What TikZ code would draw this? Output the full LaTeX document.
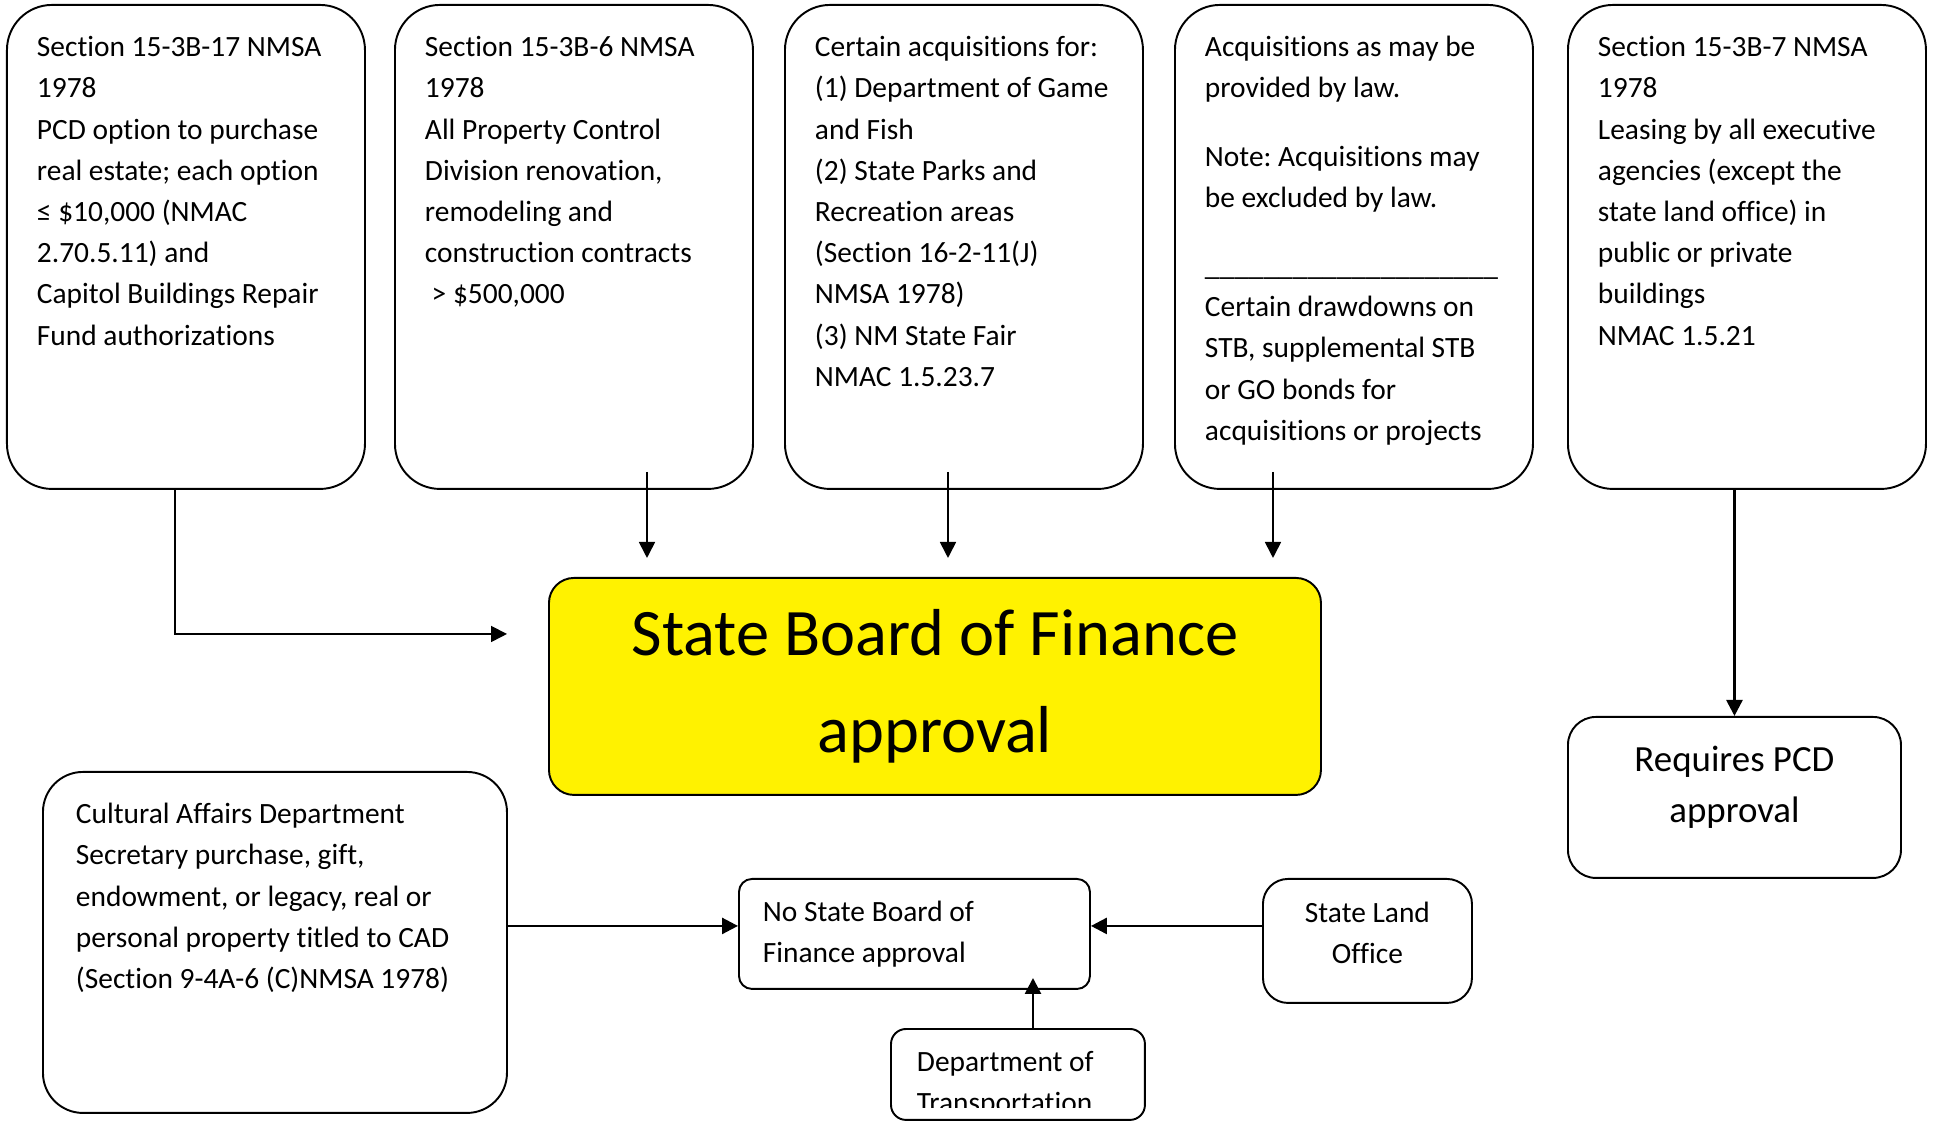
\documentclass[tikz,border=0pt]{standalone}
\usepackage{fontspec}
\setmainfont{Carlito}[Ligatures=NoCommon]
\usetikzlibrary{arrows.meta}

\newcommand{\boxfont}{\fontsize{8.37pt}{11.72pt}\selectfont\frenchspacing}
\newcommand{\boxtext}[3]{\parbox[t][#2][t]{#1}{\raggedright\strut#3}}

\tikzset{
  box/.style={draw, line width=0.55pt, anchor=north west, font=\boxfont},
  topbox/.style={box, rounded corners=0.45cm, inner xsep=0.3cm, inner ysep=0.23cm},
  thin arrow/.style={line width=0.5pt, -{Triangle[length=0.16cm, width=0.16cm]}},
  thick arrow/.style={line width=0.75pt, -{Triangle[length=0.16cm, width=0.16cm]}}
}

\begin{document}
\begin{tikzpicture}
  \useasboundingbox (0,0) rectangle (19.33,11.21);

  \node[topbox] (pcd17) at (0.06,11.17) {\boxtext{2.98cm}{4.38cm}{Section 15-3B-17 NMSA\\1978\\PCD option to purchase\\real estate; each option\\≤ \$10,000 (NMAC\\2.70.5.11) and\\Capitol Buildings Repair\\Fund authorizations}}; %上段1
  \node[topbox] (pcd6) at (3.94,11.17) {\boxtext{2.98cm}{4.38cm}{Section 15-3B-6 NMSA\\1978\\All Property Control\\Division renovation,\\remodeling and\\construction contracts\\\hspace*{0.23em}> \$500,000}}; %上段2
  \node[topbox] (acq) at (7.84,11.17) {\boxtext{2.98cm}{4.38cm}{Certain acquisitions for:\\(1) Department of Game\\and Fish\\(2) State Parks and\\Recreation areas\\(Section 16-2-11(J)\\NMSA 1978)\\(3) NM State Fair\\NMAC 1.5.23.7}}; %上段3
  \node[topbox] (law) at (11.74,11.17) {\boxtext{2.98cm}{4.38cm}{Acquisitions as may be\\provided by law.\\[0.27cm]Note: Acquisitions may\\be excluded by law.\\[0.27cm]\_\_\_\_\_\_\_\_\_\_\_\_\_\_\_\_\_\_\_\_\\Certain drawdowns on\\STB, supplemental STB\\or GO bonds for\\acquisitions or projects}}; %上段4
  \node[topbox] (pcd7) at (15.67,11.17) {\boxtext{2.98cm}{4.38cm}{Section 15-3B-7 NMSA\\1978\\Leasing by all executive\\agencies (except the\\state land office) in\\public or private\\buildings\\NMAC 1.5.21}}; %上段5

  \node[box, fill=yellow, rounded corners=0.25cm, minimum width=7.72cm, minimum height=2.17cm, align=center, font=\fontsize{18.9pt}{27.6pt}\selectfont] (sbf) at (5.48,5.44) {State Board of Finance\\approval}; %黄色の箱
  \node[box, rounded corners=0.28cm, inner xsep=0.1cm, inner ysep=0.18cm, font=\fontsize{10.5pt}{14.7pt}\selectfont] (req) at (15.67,4.05) {\boxtext{3.13cm}{1.25cm}{\centering Requires PCD\\approval}}; %右の箱

  \node[box, rounded corners=0.4cm, inner xsep=0.33cm, inner ysep=0.23cm] (cad) at (0.42,3.50) {\boxtext{3.98cm}{2.95cm}{Cultural Affairs Department\\Secretary purchase, gift,\\endowment, or legacy, real or\\personal property titled to CAD\\(Section 9-4A-6 (C)NMSA 1978)}}; %左下の箱
  \node[box, rounded corners=0.13cm, inner xsep=0.24cm, inner ysep=0.14cm] (nosbf) at (7.38,2.43) {\boxtext{3.03cm}{0.82cm}{No State Board of\\Finance approval}}; %下の中央
  \node[box, rounded corners=0.25cm, inner xsep=0.1cm, inner ysep=0.15cm] (slo) at (12.62,2.43) {\boxtext{1.89cm}{0.94cm}{\centering State Land\\Office}}; %右下の箱
  \begin{scope}
    \clip (8.8,0.13) rectangle (11.6,1.0);
    \node[box, draw=none, inner xsep=0.25cm, inner ysep=0.13cm] (dot) at (8.91,0.92) {\boxtext{2.02cm}{0.63cm}{Department of\\Transportation}};
  \end{scope}
  \draw[line width=0.55pt, rounded corners=0.15cm] (dot.north west) rectangle (dot.south east); %一番下の箱

  \coordinate (in17) at (5.07,4.87);
  \coordinate (top6) at (6.47,6.49);
  \coordinate (in6) at (6.47,5.63);
  \coordinate (topacq) at (9.48,6.49);
  \coordinate (inacq) at (9.48,5.63);
  \coordinate (toplaw) at (12.73,6.49);
  \coordinate (inlaw) at (12.73,5.63);
  \coordinate (nsw) at ([yshift=0.08cm]nosbf.west);
  \coordinate (nse) at ([yshift=0.08cm]nosbf.east);
  \coordinate (dotin) at (10.33,1.43);

  \draw[thin arrow] ([xshift=-0.11cm]pcd17.south) |- (in17); %左の矢印
  \draw[thin arrow] (top6) -- (in6);
  \draw[thin arrow] (topacq) -- (inacq);
  \draw[thin arrow] (toplaw) -- (inlaw); %下向きの矢印
  \draw[thick arrow] (pcd7.south -| req.north) -- (req.north); %右の矢印
  \draw[thick arrow] (cad.east |- nsw) -- (nsw);
  \draw[thick arrow] (slo.west |- nse) -- (nse);
  \draw[thick arrow] (dotin |- dot.north) -- (dotin); %下の矢印
\end{tikzpicture}
\end{document}
